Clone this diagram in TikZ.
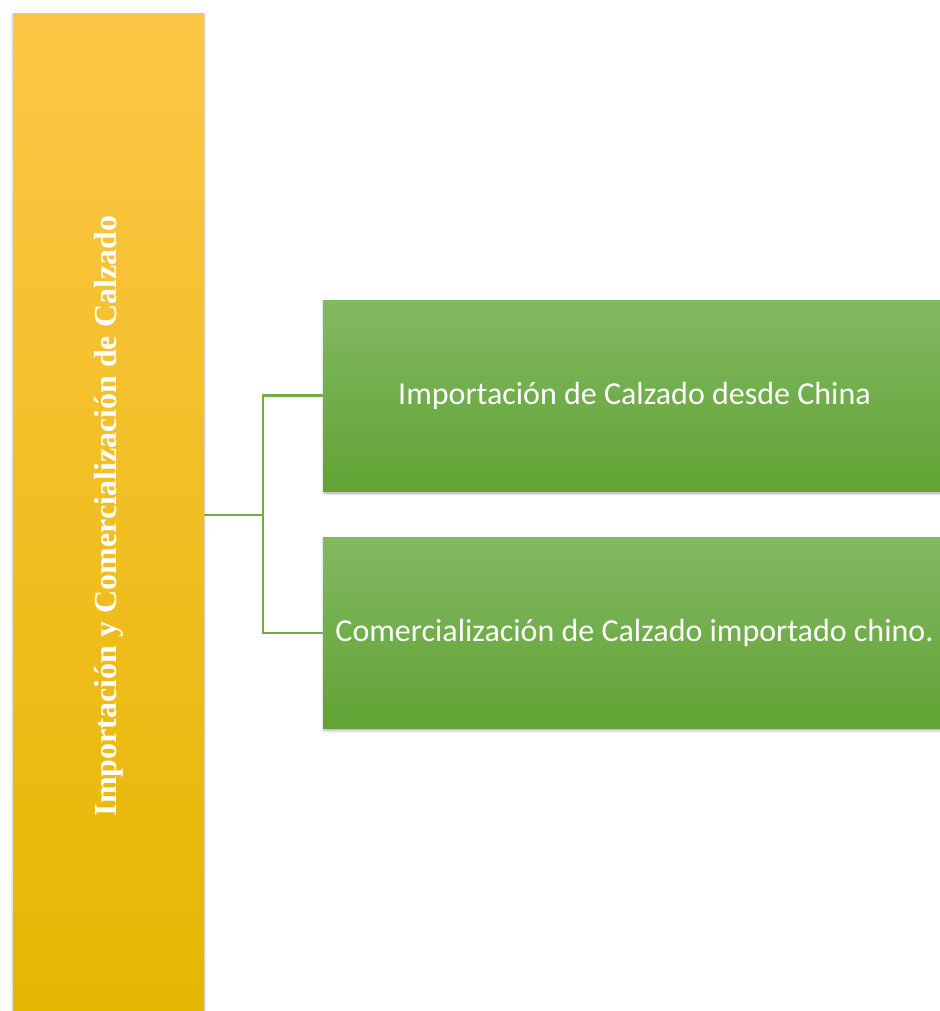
\documentclass[tikz,border=0pt]{standalone}
\usepackage{fontspec}
\setmainfont{Liberation Serif}
\newfontfamily\calibri{Carlito}
\usetikzlibrary{positioning,shadows.blur}
\definecolor{ytop}{HTML}{FDC647}
\definecolor{ymid}{HTML}{FFC600}
\definecolor{ybot}{HTML}{E5B700}
\definecolor{gtop}{HTML}{82B963}
\definecolor{gbot}{HTML}{61A334}
\definecolor{gline}{HTML}{70AD47}

\begin{document}
\begin{tikzpicture}[x=1pt,y=1pt,node distance=46pt,
    main/.style = {minimum width=191pt, minimum height=1004pt, inner sep=0pt,
      top color=ytop, middle color=ymid, bottom color=ybot, text=white,
      blur shadow={shadow xshift=0pt, shadow yshift=-1pt, shadow blur radius=3pt, shadow opacity=30}},
    sub/.style = {minimum width=623pt, minimum height=191pt, inner sep=0pt,
      top color=gtop, bottom color=gbot, text=white, font=\calibri\fontsize{32}{38}\selectfont,
      blur shadow={shadow xshift=1pt, shadow yshift=-2pt, shadow blur radius=3pt, shadow opacity=35}},
    link/.style = {draw=gline, line width=2.2pt}]
    \useasboundingbox (0,0) rectangle (939,-1011);
    \node[main] (1) at (108.5,-516) {\rotatebox{90}{\fontsize{32}{38}\selectfont\bfseries Importación y Comercialización de Calzado}};
    \node[sub] (2) at (634.5,-395.5) {Importación de Calzado desde China};
    \node[sub] (3) [below=of 2] {Comercialización de Calzado importado chino.};
    %Connectors
    \coordinate (4) at (263,-515);
    \draw[link] (1.east |- 4) -- (4);
    \draw[link] (4) |- (2.west);
    \draw[link] (4) |- (3.west);
\end{tikzpicture}
\end{document}
